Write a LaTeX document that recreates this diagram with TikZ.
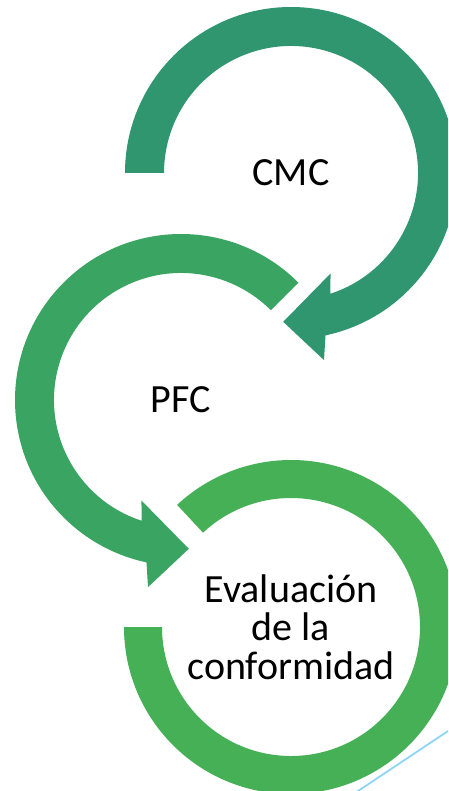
\documentclass[tikz,border=0pt]{standalone}
\usepackage{fontspec}
\setmainfont{Carlito}
\definecolor{verdeA}{RGB}{47,150,112}
\definecolor{verdeB}{RGB}{58,165,98}
\definecolor{verdeC}{RGB}{69,176,85}
\definecolor{celeste}{RGB}{141,213,242}
\tikzset{
  etiqueta/.style={align=center,font=\fontsize{40}{38.5}\selectfont},
}
\begin{document}
\begin{tikzpicture}[x=1pt,y=1pt]
	\useasboundingbox (0,0) rectangle (448,-791);
	\clip (0,0) rectangle (448,-791);
	\node (cmc)  at (291,-173) [etiqueta] {CMC};
	\node (pfc)  at (181,-400) [etiqueta] {PFC};
	\node (eval) at (291,-627) [etiqueta] {Evaluación\\de la\\conformidad};
	\begin{scope}[shift={(cmc.center)}]
		\fill[verdeA] (180:166) arc[start angle=180,end angle=-78,radius=166] -- (-80:190) -- (-93:149)
			-- (-68.5:108) -- (-72:127) arc[start angle=-72,end angle=180,radius=127] -- cycle;
	\end{scope}
	\begin{scope}[shift={(pfc.center)}]
		\fill[verdeB] (45:166) arc[start angle=45,end angle=258,radius=166] -- (260:190) -- (273:149)
			-- (248.5:108) -- (252:127) arc[start angle=252,end angle=45,radius=127] -- cycle;
	\end{scope}
	\begin{scope}[shift={(eval.center)}]
		\fill[verdeC] (180:167) arc[start angle=180,end angle=493,radius=167] -- (133:129)
			arc[start angle=133,end angle=-180,radius=129] -- cycle;
	\end{scope}
	\draw[celeste,line width=1.8] (355,-793) -- (451,-729);
\end{tikzpicture}
\end{document}
